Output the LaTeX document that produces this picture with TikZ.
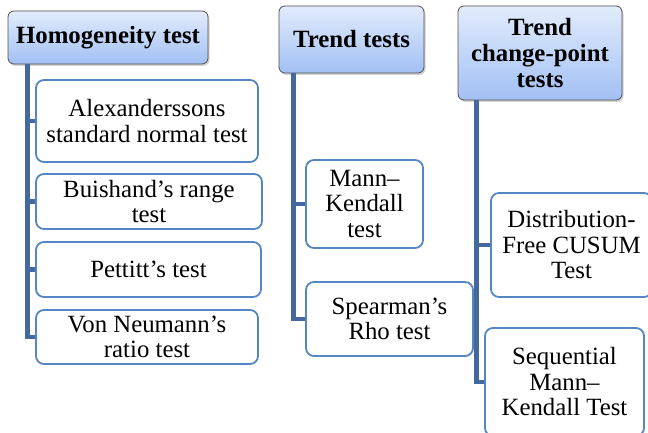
\documentclass[tikz,border=0pt]{standalone}
\usepackage{fontspec}
\setmainfont{Liberation Serif}
\newfontfamily\tms{Liberation Serif}
\usetikzlibrary{calc,shadows}
\definecolor{hdtop}{HTML}{E2ECFC}
\definecolor{hdbot}{HTML}{A2C0F4}
\definecolor{hdline}{HTML}{505050}
\definecolor{boxline}{HTML}{5585C2}
\definecolor{connc}{HTML}{43699E}
\tikzset{
  header/.style={draw=hdline, line width=0.8pt, rounded corners=6pt,
    top color=hdtop, bottom color=hdbot, align=center, inner sep=0pt,
    font=\tms\fontsize{24.8}{26}\selectfont\bfseries,
    drop shadow={opacity=0.35, shadow xshift=1.5pt, shadow yshift=-2pt}},
  item/.style={draw=boxline, line width=1.8pt, rounded corners=8pt, fill=white,
    align=center, inner sep=0pt, font=\tms\fontsize{24.8}{25.5}\selectfont},
  conn/.style={draw=connc, line width=4.5pt}
}
\begin{document}
\begin{tikzpicture}[x=1pt,y=-1pt]
\useasboundingbox (0,0) rectangle (648,433);
% headers
\node[header, minimum width=200pt, minimum height=53pt] (h1) at (108,37.5) {Homogeneity test};
\node[header, minimum width=145pt, minimum height=67pt] (h2) at (351.5,39.5) {Trend tests};
\node[header, minimum width=164pt, minimum height=94pt] (h3) at (540,53) {Trend\\change-point\\tests};
% connectors
\coordinate (s1) at ($(h1.south west)+(20,0)$);
\coordinate (s2) at ($(h2.south west)+(15,0)$);
\coordinate (s3) at ($(h3.south west)+(19,0)$);
% items (positions)
\path
 (147,121) coordinate (pa1)
 (149,201.5) coordinate (pa2)
 (148.5,269.5) coordinate (pa3)
 (147,337) coordinate (pa4)
 (364.5,204) coordinate (pb1)
 (389.5,319) coordinate (pb2)
 (571.5,245) coordinate (pc1)
 (564.5,382) coordinate (pc2);
\node[item, minimum width=222pt, minimum height=82pt] (a1) at (pa1) {Alexanderssons\\standard normal test};
\node[item, minimum width=226pt, minimum height=55pt] (a2) at (pa2) {Buishand’s range\\test};
\node[item, minimum width=225pt, minimum height=55pt] (a3) at (pa3) {Pettitt’s test};
\node[item, minimum width=222pt, minimum height=54pt] (a4) at (pa4) {Von Neumann’s\\ratio test};
\node[item, minimum width=117pt, minimum height=88pt] (b1) at (pb1) {Mann–\\Kendall\\test};
\node[item, minimum width=167pt, minimum height=74pt] (b2) at (pb2) {Spearman’s\\Rho test};
\node[item, minimum width=161pt, minimum height=104pt] (c1) at (pc1) {Distribution-\\Free CUSUM\\Test};
\node[item, minimum width=159pt, minimum height=108pt] (c2) at (pc2) {Sequential\\Mann–\\Kendall Test};
\foreach \c in {a1,a2,a3,a4} \draw[conn] (s1) |- (\c.west);
\foreach \c in {b1,b2} \draw[conn] (s2) |- (\c.west);
\foreach \c in {c1,c2} \draw[conn] (s3) |- (\c.west);
\end{tikzpicture}
\end{document}
